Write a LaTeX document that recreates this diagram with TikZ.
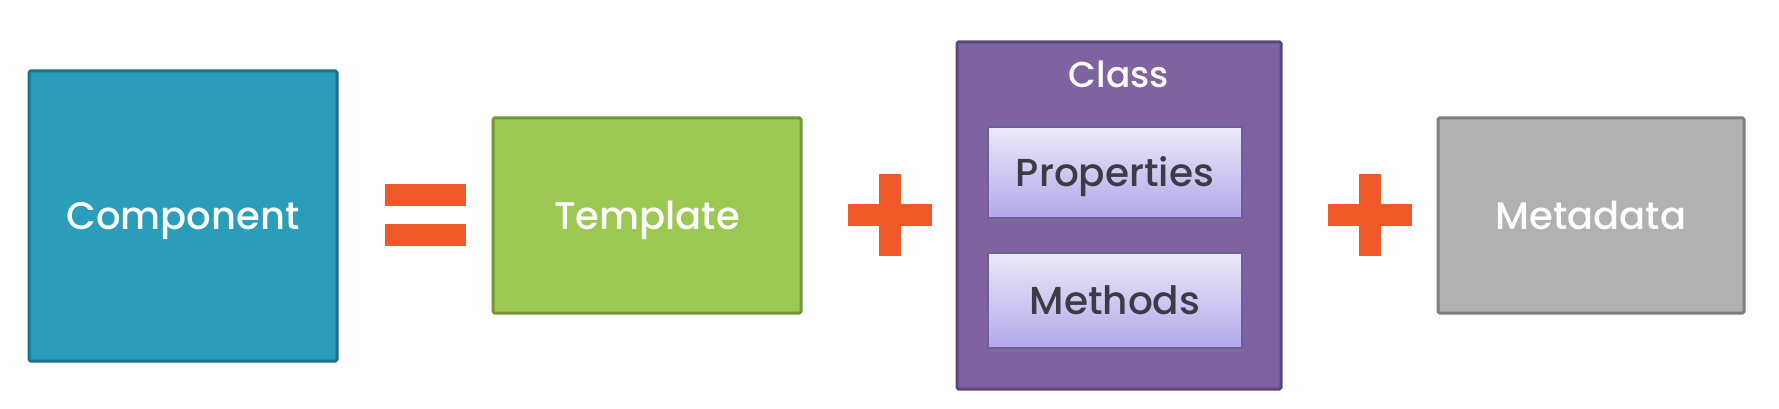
\documentclass[tikz,border=0pt]{standalone}
\usepackage{fontspec}
\setmainfont{Poppins}[UprightFont={* Medium}]
\usetikzlibrary{shadows}
\definecolor{compfill}{HTML}{2A9DBA}
\definecolor{compdraw}{HTML}{1F7189}
\definecolor{tplfill}{HTML}{9DC753}
\definecolor{tpldraw}{HTML}{76943A}
\definecolor{clsfill}{HTML}{7F63A1}
\definecolor{clsdraw}{HTML}{5C467E}
\definecolor{subtop}{HTML}{ECE9FA}
\definecolor{subbot}{HTML}{B3A7E8}
\definecolor{subdraw}{HTML}{6E5CA6}
\definecolor{metafill}{HTML}{B1B1B1}
\definecolor{metadraw}{HTML}{7F7F7F}
\definecolor{opcol}{HTML}{F05A28}
\definecolor{subtext}{HTML}{3C3C46}
\begin{document}
\begin{tikzpicture}[x=1pt,y=-1pt,
  box/.style={draw, line width=3pt, rounded corners=1.5pt, inner sep=0pt,
    text height=27pt, text depth=0pt, text=white, font=\fontsize{38.5}{40}\selectfont},
  subbox/.style={draw=subdraw, line width=1.5pt, inner sep=0pt,
    top color=subtop, bottom color=subbot,
    drop shadow={shadow xshift=1pt, shadow yshift=-2.5pt, opacity=0.45},
    text height=27pt, text depth=0pt, text=subtext, font=\fontsize{39}{41}\selectfont,
    minimum width=254pt},
  opbar/.style={fill=opcol, draw=none}]
\useasboundingbox (0,0) rectangle (1779,409);
\fill[white] (0,0) rectangle (1779,409);
\node[box, fill=compfill, draw=compdraw, minimum width=308pt, minimum height=290pt] (comp) at (183,216) {Component};
\node[box, fill=tplfill, draw=tpldraw, minimum width=308pt, minimum height=195pt] (tpl) at (647,215.5) {Template};
\node[box, fill=clsfill, draw=clsdraw, minimum width=324pt, minimum height=347pt] (cls) at (1119,215.5) {};
\node[text=white, font=\fontsize{36}{38}\selectfont, text height=25pt, text depth=0pt, inner sep=0pt] (clslabel) at (1119,75.5) {Class};
\node[subbox, minimum height=91pt] (props) at (1115,172.5) {Properties};
\node[subbox, minimum height=95pt] (meth) at (1115,300.5) {Methods};
\node[box, fill=metafill, draw=metadraw, minimum width=306pt, minimum height=195pt] (meta) at (1591,215.5) {Metadata};
% equals sign
\path[opbar] (385,184) rectangle (466,206);
\path[opbar] (385,224) rectangle (466,246);
% plus signs
\path[opbar] (848,204) rectangle (932,226);
\path[opbar] (879,174) rectangle (901,256);
\path[opbar] (1328,204) rectangle (1412,226);
\path[opbar] (1359,174) rectangle (1381,256);
\end{tikzpicture}
\end{document}
